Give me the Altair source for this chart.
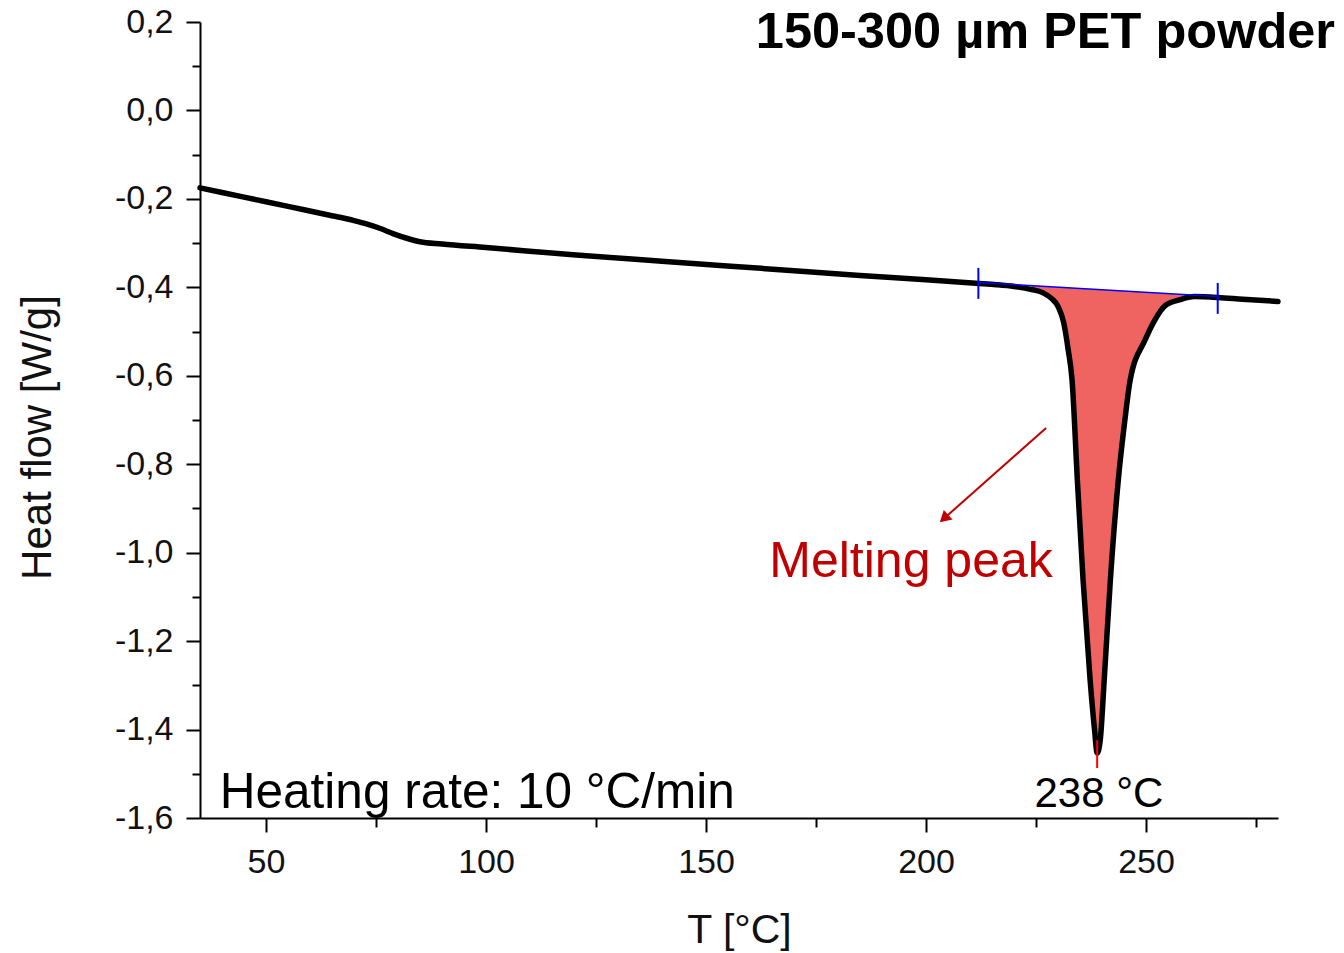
import altair as alt
import pandas as pd

# ---- data ----
T_vals = [35, 45, 55, 65, 70, 73, 76, 79, 82, 85, 90, 100, 120.5, 140, 162.5, 185, 200,
          211.3, 216, 220, 224, 226.5, 228.5, 230, 231.3, 232.3, 233.2, 234.4, 235.7,
          237.3, 238.3, 238.9, 239.6, 240.5, 241.9, 243.7, 245.2, 246.4, 249.8, 252.0,
          254.3, 257.7, 261.0, 266.4, 272, 280]
HF_vals = [-0.175, -0.196, -0.217, -0.238, -0.249, -0.257, -0.267, -0.279, -0.289, -0.297,
           -0.302, -0.310, -0.327, -0.341, -0.357, -0.373, -0.383,
           -0.391, -0.394, -0.398, -0.405, -0.412, -0.425, -0.443, -0.480, -0.540, -0.610,
           -0.836, -1.062, -1.288, -1.400, -1.453, -1.424, -1.288, -1.062, -0.836, -0.700,
           -0.610, -0.519, -0.474, -0.442, -0.428, -0.421, -0.423, -0.427, -0.432]

base_T = [211.9, 266.3]
base_HF = [-0.389, -0.421]
marker_lo = [-0.356, -0.390]
marker_hi = [-0.426, -0.460]

peak_T = [238.9]
peak_lo = [-1.424]
peak_hi = [-1.487]

arrow_T = [227.3, 204.4]
arrow_HF = [-0.718, -0.920]

x_ticks = [50, 75, 100, 125, 150, 175, 200, 225, 250, 275]
y_ticks = [-1.6, -1.5, -1.4, -1.3, -1.2, -1.1, -1.0, -0.9, -0.8, -0.7, -0.6, -0.5, -0.4,
           -0.3, -0.2, -0.1, 0.0, 0.1, 0.2]

title_text = "150-300 µm PET powder"
x_title = "T [°C]"
y_title = "Heat flow [W/g]"
FONT = "Liberation Sans"

curve = pd.DataFrame({"T": T_vals, "HF": HF_vals})
base_df = pd.DataFrame({"T": base_T, "HF": base_HF})
markers_df = pd.DataFrame({"T": base_T, "HF": marker_lo, "hi": marker_hi})
peak_df = pd.DataFrame({"T": peak_T, "HF": peak_lo, "hi": peak_hi})
arrow_df = pd.DataFrame({"T": arrow_T, "HF": arrow_HF})
head_df = pd.DataFrame({"T": [arrow_T[-1]], "HF": [arrow_HF[-1]]})

xscale = alt.Scale(domain=[35, 280], nice=False, zero=False)
yscale = alt.Scale(domain=[-1.6, 0.2], nice=False, zero=False)

xaxis = alt.Axis(
    values=x_ticks, title=x_title, grid=False,
    tickSize={"condition": {"test": "datum.value % 50 == 0", "value": 14}, "value": 9},
    labelExpr="datum.value % 50 == 0 ? datum.label : ''",
    labelFont=FONT, labelFontSize=34, labelColor="#111111", labelPadding=13,
    labelFlush=False, labelOverlap=False,
    titleFont=FONT, titleFontSize=41, titleFontWeight="normal", titleColor="#111111",
    titleBaseline="alphabetic", titleY=124,
    domainColor="black", domainWidth=2, tickColor="black", tickWidth=2,
)
yaxis = alt.Axis(
    values=y_ticks, title=y_title, grid=False,
    tickSize={"condition": {"test": "abs(round(datum.value*10)) % 2 == 0", "value": 14}, "value": 8},
    labelExpr="abs(round(datum.value*10)) % 2 == 0 ? replace(replace(format(datum.value, '.1f'), '.', ','), '\u2212', '-') : ''",
    labelFont=FONT, labelFontSize=34, labelColor="#111111", labelPadding=13,
    labelFlush=False, labelOverlap=False,
    titleFont=FONT, titleFontSize=42, titleFontWeight="normal", titleColor="#111111",
    titleBaseline="alphabetic", titleX=-150, titleY=415, titleAngle=270,
    domainColor="black", domainWidth=2, tickColor="black", tickWidth=2,
)


def X(field="T"):
    return alt.X(f"{field}:Q", scale=xscale, axis=xaxis)


def Y(field="HF"):
    return alt.Y(f"{field}:Q", scale=yscale, axis=yaxis)


slope = (base_HF[1] - base_HF[0]) / (base_T[1] - base_T[0])

fill = alt.Chart(curve).transform_filter(
    "datum.T >= 222 && datum.T <= 262"
).transform_calculate(
    base=f"{base_HF[0]} + (datum.T - {base_T[0]}) * {slope}"
).mark_area(color="#ef6461", interpolate="monotone").encode(
    x=X(), y=Y(), y2="base:Q"
)

line = alt.Chart(curve).mark_line(color="black", strokeWidth=5.5, interpolate="monotone",
                                  strokeCap="round", strokeJoin="round").encode(x=X(), y=Y())

baseline = alt.Chart(base_df).mark_line(color="#0000ff", strokeWidth=1.5).encode(x=X(), y=Y())
markers = alt.Chart(markers_df).mark_rule(color="#0000ff", strokeWidth=2).encode(
    x=X(), y=Y(), y2="hi:Q")
peak = alt.Chart(peak_df).mark_rule(color="#ff0000", strokeWidth=2).encode(
    x=X(), y=Y(), y2="hi:Q")

arrow = alt.Chart(arrow_df).mark_line(color="#c00000", strokeWidth=2).encode(x=X(), y=Y())
head = alt.Chart(head_df).mark_point(shape="triangle", filled=True, color="#c00000",
                                     size=170, angle=228, opacity=1).encode(x=X(), y=Y())

melt_df = pd.DataFrame({"T": [196.6], "HF": [-1.021], "label": ["Melting peak"]})
melt = alt.Chart(melt_df).mark_text(font=FONT, fontSize=50, color="#c00000",
                                    align="center", baseline="middle").encode(
    x=X(), y=Y(), text="label:N")

rate_df = pd.DataFrame({"T": [39.5], "HF": [-1.5775], "label": ["Heating rate: 10 °C/min"]})
rate = alt.Chart(rate_df).mark_text(font=FONT, fontSize=49.5, color="black",
                                    align="left", baseline="alphabetic").encode(
    x=X(), y=Y(), text="label:N")

tpk_df = pd.DataFrame({"T": [239.3], "HF": [-1.575], "label": ["238 °C"]})
tpk = alt.Chart(tpk_df).mark_text(font=FONT, fontSize=42, color="black",
                                  align="center", baseline="alphabetic").encode(
    x=X(), y=Y(), text="label:N")

title_df = pd.DataFrame({"label": [title_text]})
title = alt.Chart(title_df).mark_text(font=FONT, fontSize=50.5, fontWeight="bold", color="black",
                                      align="right", baseline="alphabetic").encode(
    x=alt.value(1135), y=alt.value(26), text="label:N")

chart = alt.layer(fill, line, baseline, markers, peak, arrow, head, melt, rate, tpk, title).properties(
    width=1078, height=796,
    autosize=alt.AutoSizeParams(type="none"),
    padding={"left": 200, "top": 22, "right": 66, "bottom": 135},
    background="white",
).configure_view(stroke=None)

chart.save("out.html", embed_options={"renderer": "svg", "actions": False})
